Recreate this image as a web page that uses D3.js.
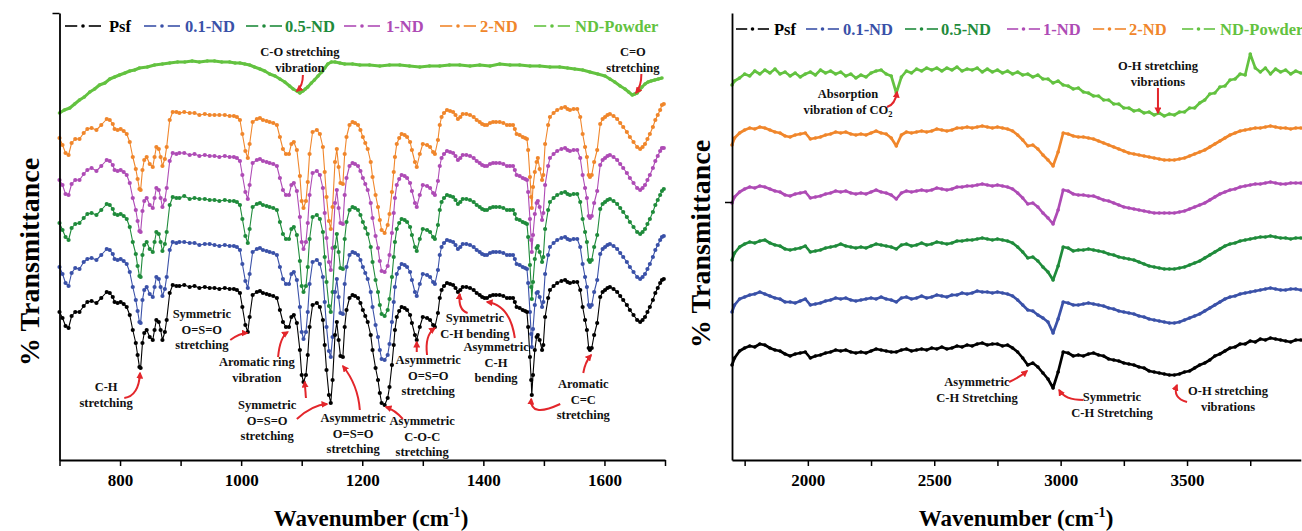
<!DOCTYPE html>
<html>
<head>
<meta charset="utf-8">
<script src="https://cdn.jsdelivr.net/npm/d3@7/dist/d3.min.js"></script>
<style>
html,body{margin:0;padding:0;background:#fff;}
svg text{font-family:"Liberation Serif","Times New Roman",Times,serif;font-weight:bold;}
</style>
</head>
<body>
<svg id="chart" width="1302" height="531"></svg>
<script>
// ---------------- DATA ----------------
const seriesNames  = ["Psf", "0.1-ND", "0.5-ND", "1-ND", "2-ND", "ND-Powder"];
const seriesColors = ["#000000", "#3a51a8", "#1f8b3b", "#ae4bb5", "#f0862b", "#63c240"];

const xTicksLeftMajor = [800, 1000, 1200, 1400, 1600];
const xTicksLeftMinor = [700, 900, 1100, 1300, 1500, 1700];
const xTicksRightMajor = [2000, 2500, 3000, 3500];
const xTicksRightMinor = [1750, 2250, 2750, 3250, 3750];

// Left panel (700-1700 cm-1) – relative transmittance (arbitrary units)
const wnLeft = [
 700,705,710,715,720,726,733,740,746,753,
 761,769,778,783,788,791,796,801,806,811,
 816,821,826,829,832,834,837,840,844,849,
 854,857,860,864,867,870,874,877,882,887,
 893,898,906,915,923,931,940,948,956,964,
 973,981,988,993,998,1002,1007,1011,1014,1019,
 1026,1031,1036,1042,1047,1053,1059,1064,1069,1074,
 1079,1083,1087,1092,1097,1100,1103,1107,1110,1113,
 1118,1125,1130,1135,1138,1141,1145,1148,1151,1155,
 1158,1161,1164,1168,1171,1174,1179,1184,1188,1193,
 1197,1201,1205,1209,1214,1217,1222,1226,1229,1232,
 1237,1242,1245,1249,1252,1254,1257,1261,1265,1270,
 1274,1279,1282,1287,1290,1295,1300,1307,1312,1317,
 1320,1325,1328,1331,1335,1340,1345,1350,1354,1358,
 1362,1366,1372,1378,1384,1389,1394,1398,1402,1406,
 1411,1416,1421,1427,1433,1439,1444,1449,1452,1455,
 1460,1465,1469,1472,1474,1477,1479,1480,1482,1485,
 1488,1490,1493,1497,1499,1502,1507,1510,1516,1522,
 1529,1535,1539,1543,1549,1555,1560,1564,1568,1571,
 1574,1576,1579,1583,1588,1593,1597,1601,1605,1609,
 1615,1621,1626,1631,1637,1642,1648,1654,1659,1663,
 1667,1671,1675,1680,1684,1688,1692,1695,1698
];
const psfLeft = [
 148,142,134,132,144,148,148,154,158,159,
 157,162,168,167,163,158,157,158,156,153,
 145,130,117,105,93,92,117,127,130,123,
 120,130,140,138,130,120,128,140,167,175,
 174,174,175,173,174,172,173,172,172,171,
 172,171,171,170,167,153,135,128,143,165,
 168,169,167,166,165,164,162,150,138,133,
 133,143,145,137,110,85,78,85,105,133,
 155,157,153,140,115,90,65,57,80,125,
 138,120,104,103,133,150,162,165,164,162,
 157,150,144,138,125,110,92,80,67,57,
 55,62,73,95,115,130,143,149,153,152,
 150,145,137,125,120,133,143,142,140,135,
 133,147,162,170,174,177,176,175,172,168,
 170,173,173,172,170,167,165,163,162,162,
 164,165,165,165,164,162,162,162,158,153,
 152,150,149,148,133,103,80,65,85,110,
 123,125,120,110,115,143,162,170,174,177,
 179,180,178,177,178,178,170,153,140,130,
 112,110,112,125,137,163,168,170,172,173,
 171,168,164,160,155,150,145,140,138,140,
 143,148,153,160,167,172,177,180,181
];
const nd01Left = [
 150,143,134,131,144,149,148,155,158,159,
 157,162,168,167,163,158,157,158,156,153,
 145,130,117,106,95,94,117,127,130,123,
 120,130,140,138,130,121,128,140,167,175,
 174,175,175,174,174,172,173,173,172,171,
 172,171,171,170,167,153,136,129,143,165,
 168,169,167,166,165,164,162,150,138,133,
 133,143,145,137,110,85,78,85,105,133,
 155,157,153,140,115,90,66,60,80,125,
 138,120,104,103,133,150,162,165,164,162,
 157,150,144,138,125,110,92,80,67,58,
 57,62,73,95,115,130,143,149,153,152,
 150,145,137,125,121,133,143,142,140,135,
 133,147,162,170,174,177,176,175,172,168,
 170,173,173,172,170,167,165,163,162,162,
 164,165,165,165,164,162,162,162,158,153,
 152,150,149,148,134,105,83,70,88,112,
 124,125,120,110,115,143,162,170,174,177,
 179,180,178,177,178,178,170,153,140,130,
 112,110,112,125,137,163,168,170,172,173,
 171,168,164,160,155,150,145,140,138,140,
 143,148,153,160,167,172,177,180,181
];
const nd05Left = [
 149,142,135,132,144,148,149,154,158,159,
 157,162,168,167,163,158,157,158,156,153,
 145,130,118,106,96,95,117,127,130,123,
 120,130,140,138,130,121,128,140,167,175,
 174,174,176,173,174,173,173,172,172,171,
 172,171,171,170,167,153,136,129,143,165,
 168,169,167,166,165,164,162,150,138,133,
 133,143,145,137,111,86,80,86,105,133,
 155,157,153,140,115,90,66,60,80,125,
 138,120,104,103,133,150,162,165,164,162,
 157,150,144,138,125,110,92,80,67,58,
 56,62,73,95,115,130,143,149,153,152,
 150,145,137,125,121,133,143,142,140,135,
 133,147,162,170,174,177,176,175,172,168,
 170,173,173,172,170,167,165,163,162,162,
 164,165,165,165,164,162,162,162,158,153,
 152,150,149,148,135,107,85,73,90,113,
 124,126,120,110,115,143,162,170,174,177,
 179,180,178,177,178,178,170,153,140,130,
 112,110,112,125,137,163,168,170,172,173,
 171,168,164,160,155,150,145,140,138,140,
 143,148,153,160,167,172,177,181,183
];
const nd1Left = [
 148,143,134,133,144,148,148,154,158,160,
 157,162,168,167,163,158,157,158,156,153,
 145,130,118,107,97,96,117,127,130,123,
 120,130,140,138,130,121,128,140,167,175,
 174,175,175,173,174,172,173,172,172,171,
 172,171,171,170,167,153,136,129,143,165,
 168,169,167,166,165,164,162,150,138,133,
 133,143,145,137,111,86,79,86,105,133,
 155,157,153,140,115,90,66,58,80,125,
 138,120,105,104,133,150,162,165,164,162,
 157,150,144,138,125,110,92,80,67,57,
 56,62,73,95,115,130,143,149,153,152,
 150,145,137,125,121,133,143,142,140,135,
 133,147,162,170,174,177,176,175,172,168,
 170,173,173,172,170,167,165,163,162,162,
 164,165,165,165,164,162,162,162,158,153,
 152,150,149,148,136,109,88,76,93,114,
 125,127,121,108,115,143,162,170,174,177,
 179,180,178,177,178,178,170,153,140,130,
 112,110,112,125,137,163,168,170,172,173,
 171,168,164,160,155,150,145,140,138,140,
 143,148,153,160,167,172,177,180,180
];
const nd2Left = [
 149,142,134,132,144,148,148,154,158,159,
 157,162,168,167,163,158,157,158,156,153,
 145,130,118,108,98,97,117,127,130,123,
 120,130,140,138,130,121,128,140,167,175,
 175,174,175,174,174,172,173,172,172,172,
 172,171,171,170,167,153,136,129,143,165,
 168,169,167,166,165,164,162,150,138,133,
 133,143,145,137,111,86,79,86,105,133,
 155,157,153,140,115,90,66,58,80,125,
 138,120,104,103,133,150,162,165,164,162,
 157,150,144,138,125,110,92,80,67,57,
 54,62,73,95,115,130,143,149,153,152,
 150,145,137,125,120,133,143,142,140,135,
 133,147,162,170,174,177,176,175,172,168,
 170,173,173,172,170,167,165,163,162,162,
 164,165,165,165,164,162,162,162,158,153,
 152,150,149,148,137,110,90,79,100,115,
 125,129,118,107,112,143,162,170,174,177,
 179,180,178,177,178,178,170,153,140,130,
 112,110,112,125,137,163,168,170,172,173,
 171,168,164,160,155,150,145,140,138,140,
 143,148,153,160,167,172,177,182,183
];
const wnPowderLeft = [
 700,708,717,725,733,741,750,758,766,775,
 783,791,799,808,816,824,832,845,857,870,
 882,895,907,919,931,944,956,968,981,990,
 998,1006,1014,1022,1031,1039,1047,1056,1064,1072,
 1080,1086,1092,1097,1102,1106,1110,1116,1121,1127,
 1133,1138,1143,1149,1155,1163,1171,1184,1196,1212,
 1229,1245,1262,1278,1295,1311,1328,1344,1361,1378,
 1394,1411,1427,1444,1460,1477,1493,1510,1526,1539,
 1551,1564,1576,1589,1601,1609,1617,1626,1634,1640,
 1646,1650,1654,1658,1662,1667,1672,1677,1683,1689,1695
];
const powderLeft = [
 347,350,352,356,360,363,368,371,375,377,
 381,383,385,387,389,390,392,393,395,396,
 397,398,398,399,398,399,399,398,398,397,
 397,396,395,393,391,389,386,384,381,378,
 374,371,369,367,369,371,373,377,380,384,
 388,392,396,398,398,397,396,396,395,395,
 394,395,395,394,393,394,394,395,395,394,
 395,394,396,395,395,394,394,393,393,392,
 391,390,388,386,384,381,378,374,371,368,
 365,366,367,370,373,376,378,379,380,381,382
];
// display offsets used to stack the left-panel spectra
const stackLeft = [0, 43, 88, 132, 173];

// Right panel (1700-3950 cm-1)
const wnRight = [
 1700,1710,1730,1750,1770,1790,1810,1830,1850,1870,
 1890,1910,1930,1950,1970,1990,2010,2030,2050,2070,
 2090,2110,2130,2150,2170,2190,2210,2230,2250,2270,
 2290,2310,2330,2350,2370,2390,2410,2430,2450,2470,
 2490,2510,2530,2550,2570,2590,2610,2630,2650,2670,
 2690,2710,2730,2750,2770,2790,2810,2830,2850,2870,
 2890,2910,2930,2950,2970,2990,3010,3030,3050,3070,
 3090,3110,3130,3150,3170,3190,3210,3230,3250,3270,
 3290,3310,3330,3350,3370,3390,3410,3430,3450,3470,
 3490,3510,3530,3550,3570,3590,3610,3630,3650,3670,
 3690,3710,3730,3750,3770,3790,3810,3830,3850,3870,
 3890,3910,3930,3950
];
const psfRight = [
 95,102,109,112,114,113,116,115,112,110,
 109,106,104,106,107,108,102,104,105,107,
 108,110,109,110,108,107,108,107,109,111,
 110,109,108,108,110,111,109,110,111,110,
 112,111,113,111,112,114,113,115,114,116,
 117,115,116,116,114,115,112,108,102,95,
 97,93,87,81,72,88,108,107,104,105,
 104,106,107,105,104,101,100,99,97,96,
 95,93,92,89,88,87,86,85,85,86,
 88,89,92,95,97,100,104,106,109,112,
 113,116,116,119,118,121,120,122,121,120,
 119,118,120,120
];
const nd01Right = [
 148,155,161,163,165,166,168,166,164,162,
 161,158,158,157,159,161,155,156,157,159,
 160,162,161,162,160,159,160,161,162,161,
 163,161,160,158,162,163,161,162,164,162,
 163,165,164,163,165,165,167,166,167,169,
 168,168,167,168,167,166,164,160,155,150,
 149,145,142,138,127,141,158,157,155,155,
 156,157,156,155,154,152,151,149,148,147,
 146,144,143,141,140,139,138,137,137,138,
 140,142,144,146,149,152,155,158,161,163,
 164,166,167,168,169,170,171,172,171,170,
 170,171,171,170
];
const nd05Right = [
 200,207,213,216,218,217,219,220,217,215,
 214,211,210,211,212,214,208,209,210,212,
 213,214,216,214,213,212,213,212,214,216,
 215,214,213,211,215,216,214,215,217,215,
 216,218,217,216,217,219,219,220,220,221,
 222,221,220,221,220,219,217,213,208,202,
 203,199,193,188,180,194,213,212,209,210,
 210,211,210,209,208,206,205,203,202,201,
 200,198,196,194,193,192,191,191,191,192,
 193,195,197,199,202,205,208,211,214,216,
 217,219,220,221,222,223,223,224,223,222,
 222,221,222,222
];
const nd1Right = [
 257,263,268,271,273,272,274,273,271,269,
 268,265,264,266,267,268,262,263,264,266,
 267,269,268,269,267,266,267,266,268,270,
 268,267,265,261,267,269,268,269,270,269,
 270,272,271,270,271,273,273,274,274,275,
 276,275,274,275,274,273,271,267,262,256,
 257,253,247,242,236,250,270,269,266,265,
 265,264,264,262,260,259,257,255,253,252,
 251,250,249,248,247,247,247,247,247,248,
 249,251,253,255,257,260,263,266,268,270,
 271,273,274,275,276,276,277,278,277,276,
 276,277,277,277
];
const nd2Right = [
 315,322,327,330,332,331,333,332,330,328,
 327,324,323,325,326,327,321,322,323,325,
 326,328,327,328,326,325,326,325,327,329,
 327,326,322,314,325,328,327,328,329,328,
 329,331,330,329,330,332,332,333,332,333,
 334,333,332,333,332,331,329,325,320,314,
 315,311,305,300,294,308,327,326,324,323,
 323,322,321,319,317,315,313,311,309,307,
 306,305,304,303,302,301,300,300,300,301,
 302,304,306,308,310,313,316,319,322,325,
 327,329,330,331,332,332,333,334,333,332,
 332,331,332,332
];
const powderRight = [
 375,379,382,386,384,389,386,390,387,391,
 386,388,384,387,383,386,388,385,390,387,
 389,386,388,384,386,382,385,383,387,389,
 390,386,384,367,383,389,387,391,389,392,
 390,392,389,392,390,393,389,391,390,392,
 388,391,388,390,387,389,386,388,385,386,
 383,385,381,381,377,379,375,374,371,372,
 368,367,364,364,360,360,356,356,352,352,
 349,350,347,348,345,347,344,346,345,348,
 348,352,352,357,360,366,367,373,374,380,
 381,386,385,406,392,388,392,386,391,388,
 390,386,389,387
];

// annotations (x in cm-1, y in transmittance units; arrows: x1,y1,cx,cy,x2,y2)
const annotationsLeft = [
 {lines:["C-O stretching","vibration"], x:1097, y:408, arrows:[[1102,385,1102,374,1092,369]]},
 {lines:["C=O","stretching"], x:1647, y:408, arrows:[[1661,386,1661,374,1652,367]]},
 {lines:["C-H","stretching"], x:777, y:73, arrows:[[807,62,831,64,833,87]]},
 {lines:["Symmetric","O=S=O","stretching"], x:935, y:146, arrows:[[982,120,998,127,1010,127]]},
 {lines:["Aromatic ring","vibration"], x:1026, y:98, arrows:[[1061,103,1064,123,1077,128]]},
 {lines:["Symmetric","O=S=O","stretching"], x:1043, y:55, arrows:[[1092,41,1117,55,1142,56],[1107,62,1106,70,1105,78]]},
 {lines:["Asymmetric","O=S=O","stretching"], x:1185, y:42, arrows:[[1196,50,1193,75,1168,94]]},
 {lines:["Asymmetric","C-O-C","stretching"], x:1299, y:39, arrows:[[1267,41,1254,50,1239,53]]},
 {lines:["Asymmetric","O=S=O","stretching"], x:1309, y:100, arrows:[[1290,108,1290,113,1290,118],[1307,105,1303,125,1320,132]]},
 {lines:["Symmetric","C-H bending"], x:1386, y:142, arrows:[[1374,147,1358,150,1361,166]]},
 {lines:["Asymmetric","C-H","bending"], x:1421, y:113, arrows:[[1452,122,1444,155,1406,158]]},
 {lines:["Aromatic","C=C","stretching"], x:1565, y:76, arrows:[[1565,87,1568,98,1578,105],[1527,56,1477,42,1479,61]]}
];
const annotationsRight = [
 {lines:["Absorption",["vibration of CO","2"]], x:2159, y:366, arrows:[[2313,353,2345,355,2353,368]]},
 {lines:["O-H stretching","vibrations"], x:3385, y:394, arrows:[[3385,372,3385,360,3385,347]]},
 {lines:["Asymmetric","C-H Stretching"], x:2669, y:78, arrows:[[2796,78,2839,83,2867,89]]},
 {lines:["Symmetric","C-H Stretching"], x:3203, y:63, arrows:[[3089,60,3017,60,2994,70]]},
 {lines:["O-H stretching","vibrations"], x:3662, y:69, arrows:[[3500,58,3441,62,3460,75]]}
];

// ---------------- DRAWING ----------------
const svg = d3.select("#chart");
const RED = "#e3262b";
svg.append("defs").append("marker")
  .attr("id","ah").attr("viewBox","0 0 10 10").attr("refX",8).attr("refY",5)
  .attr("markerWidth",7).attr("markerHeight",7).attr("markerUnits","userSpaceOnUse")
  .attr("orient","auto")
  .append("path").attr("d","M0,0L10,5L0,10z").attr("fill",RED);

const xL = d3.scaleLinear().domain([700,1700]).range([59.5,665]);
const xR = d3.scaleLinear().domain([1700,3950]).range([732,1300.8]);
const y  = d3.scaleLinear().domain([0,447]).range([460,13]);

function drawSeries(g, xs, wn, vals, color, off, lw, r) {
  const n = Math.min(wn.length, vals.length);
  const pts = d3.range(n).map(i => [wn[i], vals[i] + off]);
  g.append("path").datum(pts)
    .attr("fill","none").attr("stroke",color).attr("stroke-width",lw).attr("stroke-linejoin","round")
    .attr("d", d3.line().x(p => xs(p[0])).y(p => y(p[1])));
  g.append("g").selectAll("circle").data(pts).join("circle")
    .attr("cx", p => xs(p[0])).attr("cy", p => y(p[1])).attr("r", r).attr("fill", color);
}

// Left panel spectra
const gL = svg.append("g");
drawSeries(gL, xL, wnPowderLeft, powderLeft, seriesColors[5], 0, 3, 1.8);
const leftSets = [psfLeft, nd01Left, nd05Left, nd1Left, nd2Left];
for (let i = 4; i >= 0; i--) {
  drawSeries(gL, xL, wnLeft, leftSets[i], seriesColors[i], stackLeft[i], 1.1, 2.1);
}

// Right panel spectra
const gR = svg.append("g");
const rightSets = [psfRight, nd01Right, nd05Right, nd1Right, nd2Right, powderRight];
for (let i = 5; i >= 0; i--) {
  drawSeries(gR, xR, wnRight, rightSets[i], seriesColors[i], 0, 2.7, 1.8);
}

// Axes
function bottomAxis(xs, major, minor) {
  const gm = svg.append("g").attr("transform","translate(0,460)")
    .call(d3.axisBottom(xs).tickValues(minor).tickSize(6).tickFormat(""));
  gm.select(".domain").remove();
  const g = svg.append("g").attr("transform","translate(0,460)")
    .call(d3.axisBottom(xs).tickValues(major).tickSize(6).tickSizeOuter(0).tickPadding(8).tickFormat(d3.format("d")));
  [gm, g].forEach(a => {
    a.selectAll("line").attr("stroke","#000").attr("stroke-width",1.5);
    a.selectAll("path").attr("stroke","#000").attr("stroke-width",1.8);
  });
  g.selectAll("text").attr("font-size",17).attr("fill","#000")
    .style("font-family",'"Liberation Serif","Times New Roman",serif').style("font-weight","bold");
}
bottomAxis(xL, xTicksLeftMajor, xTicksLeftMinor);
bottomAxis(xR, xTicksRightMajor, xTicksRightMinor);

function leftAxis(x0, tickVals) {
  const g = svg.append("g").attr("transform",`translate(${x0},0)`)
    .call(d3.axisLeft(y).tickValues(tickVals).tickSize(7).tickSizeOuter(0).tickFormat(""));
  g.selectAll("path").attr("stroke","#000").attr("stroke-width",1.8);
  g.selectAll("line").attr("stroke","#000").attr("stroke-width",1.5);
}
leftAxis(59.5, [447]);
leftAxis(732, [258]);

// Axis titles
function xTitle(cx) {
  const t = svg.append("text").attr("x",cx).attr("y",526).attr("text-anchor","middle")
    .attr("font-size",23).attr("fill","#000");
  t.append("tspan").text("Wavenumber (cm");
  t.append("tspan").attr("font-size",14).attr("dy",-9).text("-1");
  t.append("tspan").attr("dy",9).text(")");
}
xTitle(371);
xTitle(1016);
function yTitle(cx, cy) {
  svg.append("text").attr("transform",`translate(${cx},${cy}) rotate(-90)`)
    .attr("text-anchor","middle").attr("dy","0.35em").attr("font-size",28).attr("fill","#000")
    .text("% Transmittance");
}
yTitle(29, 262);
yTitle(700, 244);

// Legends
function legend(symX, textX, cy, w) {
  seriesNames.forEach((name, i) => {
    const g = svg.append("g");
    const c = seriesColors[i];
    g.append("line").attr("x1",symX[i]).attr("x2",symX[i]+w*0.34).attr("y1",cy).attr("y2",cy)
      .attr("stroke",c).attr("stroke-width",1.6);
    g.append("circle").attr("cx",symX[i]+w*0.5).attr("cy",cy).attr("r",1.8).attr("fill",c);
    g.append("line").attr("x1",symX[i]+w*0.66).attr("x2",symX[i]+w).attr("y1",cy).attr("y2",cy)
      .attr("stroke",c).attr("stroke-width",1.6);
    g.append("text").attr("x",textX[i]).attr("y",cy).attr("dy","0.35em")
      .attr("font-size",16.5).attr("fill",c).text(name);
  });
}
legend([65,144,246,344,440,534], [109,185,285,386,480,575], 26, 36);
legend([736,806,905,1007,1093,1182], [774,843,941,1043,1129,1220], 29, 33);

// Annotations
function annotate(list, xs) {
  list.forEach(a => {
    const t = svg.append("text").attr("text-anchor","middle").attr("font-size",12.5).attr("fill","#111");
    a.lines.forEach((ln, k) => {
      const ts = t.append("tspan").attr("x", xs(a.x)).attr("y", y(a.y) + k*15.5).attr("dy","0.35em");
      if (Array.isArray(ln)) {
        ts.text(ln[0]);
        t.append("tspan").attr("font-size",8.5).attr("dy","3").text(ln[1]);
      } else ts.text(ln);
    });
    a.arrows.forEach(r => {
      svg.append("path")
        .attr("d", `M${xs(r[0])},${y(r[1])}Q${xs(r[2])},${y(r[3])} ${xs(r[4])},${y(r[5])}`)
        .attr("fill","none").attr("stroke",RED).attr("stroke-width",2).attr("marker-end","url(#ah)");
    });
  });
}
annotate(annotationsLeft, xL);
annotate(annotationsRight, xR);
</script>
</body>
</html>
